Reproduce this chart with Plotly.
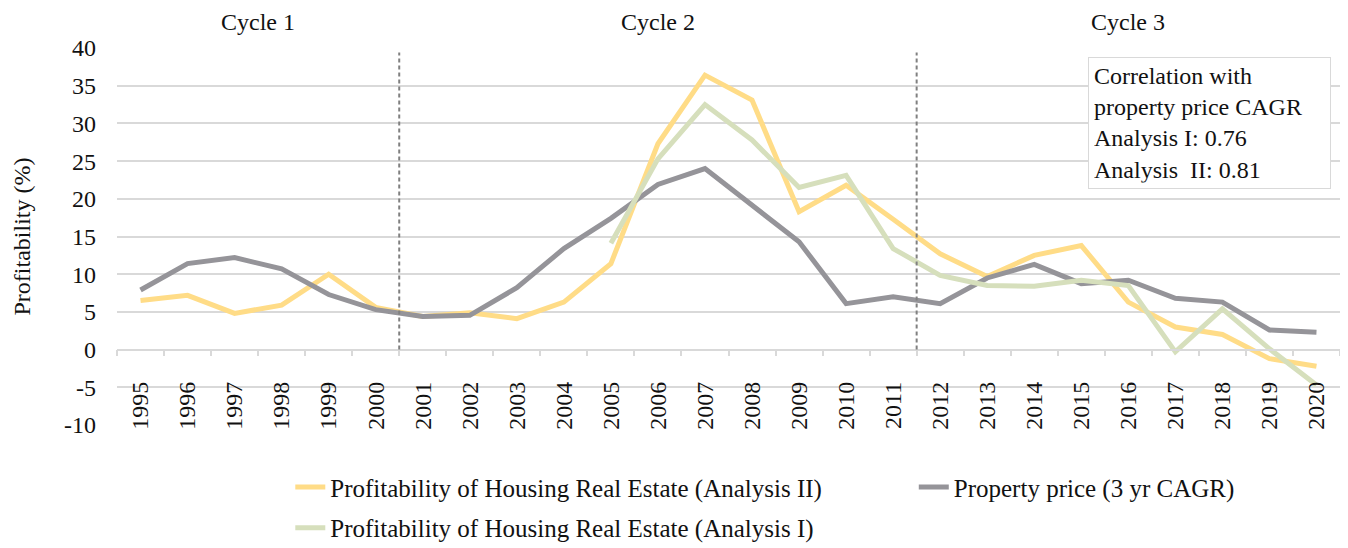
import plotly.graph_objects as go

years = list(range(1995, 2021))

analysis_ii = [6.5, 7.2, 4.8, 5.9, 10.0, 5.6, 4.4, 4.9, 4.1, 6.3, 11.4, 27.3, 36.4, 33.1,
               18.3, 21.8, 17.3, 12.7, 9.7, 12.5, 13.8, 6.3, 3.0, 2.0, -1.2, -2.2]
property_price = [7.9, 11.4, 12.2, 10.7, 7.3, 5.3, 4.4, 4.55, 8.2, 13.4, 17.4, 21.9, 24.0, 19.1,
                  14.3, 6.1, 7.0, 6.1, 9.5, 11.3, 8.75, 9.2, 6.8, 6.3, 2.6, 2.3]
analysis_i_years = list(range(2005, 2021))
analysis_i = [14.1, 25.3, 32.5, 27.8, 21.5, 23.1, 13.4, 9.85, 8.5, 8.4, 9.2, 8.5, -0.3, 5.4, 0.1, -4.7]

y_ticks = list(range(-10, 45, 5))
y_ticktext = [str(v) for v in y_ticks]

cycle_names = ["Cycle 1", "Cycle 2", "Cycle 3"]
cycle_spans = [(1995, 2000), (2001, 2011), (2012, 2020)]

corr_text = ["Correlation with", "property price CAGR", "Analysis I: 0.76", "Analysis\u00a0 II: 0.81"]

names = ["Profitability of Housing Real Estate (Analysis II)",
         "Property price (3 yr CAGR)",
         "Profitability of Housing Real Estate (Analysis I)"]

FONT = "Liberation Serif, Times New Roman, DejaVu Serif, serif"
C_YEL = "#FFDC87"
C_GRY = "#959499"
C_GRN = "#D6DFBC"
GRID = "#D9D9D9"
TXT = "#111111"

fig = go.Figure()
fig.add_trace(go.Scatter(x=years, y=analysis_ii, mode="lines", name=names[0],
                         line=dict(color=C_YEL, width=5), legend="legend"))
fig.add_trace(go.Scatter(x=years, y=property_price, mode="lines", name=names[1],
                         line=dict(color=C_GRY, width=5), legend="legend3"))
fig.add_trace(go.Scatter(x=analysis_i_years, y=analysis_i, mode="lines", name=names[2],
                         line=dict(color=C_GRN, width=5), legend="legend2"))
# invisible trace to carry the zero-line category axis
fig.add_trace(go.Scatter(x=years, y=property_price, mode="lines", xaxis="x2",
                         line=dict(width=0), opacity=0, showlegend=False, hoverinfo="skip"))

xr = [years[0] - 0.5, years[-1] + 0.5]
boundaries = [y - 0.5 for y in years] + [years[-1] + 0.5]

# cycle separators (between cycles)
for (a, b), (c, d) in zip(cycle_spans[:-1], cycle_spans[1:]):
    xb = (b + c) / 2
    fig.add_shape(type="line", x0=xb, x1=xb, y0=0, y1=39.4, xref="x", yref="y",
                  line=dict(color="#808080", width=2, dash="4px,3px"), layer="above")

for name, (a, b) in zip(cycle_names, cycle_spans):
    fig.add_annotation(x=(a + b) / 2, y=1.07, xref="x", yref="paper", text=name,
                       showarrow=False, font=dict(family=FONT, size=24, color=TXT),
                       yanchor="middle")

fig.add_annotation(x=0.7937, y=0.977, xref="paper", yref="paper", xanchor="left", yanchor="top",
                   text="<br>".join(corr_text), align="left", showarrow=False,
                   font=dict(family=FONT, size=24, color=TXT),
                   bgcolor="white", bordercolor=GRID, borderwidth=1, borderpad=5, width=231)

leg_common = dict(orientation="h", xanchor="left", yanchor="middle",
                  font=dict(family=FONT, size=25, color=TXT), bgcolor="rgba(0,0,0,0)")

fig.update_layout(
    width=1340, height=540,
    margin=dict(l=108.5, r=7.5, t=40.3, b=123, autoexpand=False),
    plot_bgcolor="white", paper_bgcolor="white",
    font=dict(family=FONT, size=24, color=TXT),
    xaxis=dict(range=xr, tickvals=years, ticktext=[str(y) for y in years], tickangle=-90,
               showgrid=False, zeroline=False, showline=False, ticks="",
               anchor="free", position=0.130, tickfont=dict(family=FONT, size=24, color=TXT)),
    xaxis2=dict(range=xr, overlaying="x", anchor="free", position=0.2, tickvals=boundaries,
                showticklabels=False, showgrid=False, zeroline=False, showline=True,
                linecolor=GRID, linewidth=1.5, ticks="outside", ticklen=6, tickcolor=GRID,
                tickwidth=1.5),
    yaxis=dict(range=[-10, 40], tickvals=y_ticks, ticktext=y_ticktext, showgrid=True,
               gridcolor=GRID, gridwidth=1.5,
               zeroline=False, showline=False, ticks="", ticklabelstandoff=20,
               tickfont=dict(family=FONT, size=24, color=TXT),
               title=dict(text="Profitability (%)", font=dict(family=FONT, size=24, color=TXT),
                          standoff=26)),
    legend=dict(x=0.1417, y=-0.165, **leg_common),
    legend3=dict(x=0.6515, y=-0.165, **leg_common),
    legend2=dict(x=0.1417, y=-0.273, **leg_common),
    showlegend=True,
)

fig.write_html("out.html")
